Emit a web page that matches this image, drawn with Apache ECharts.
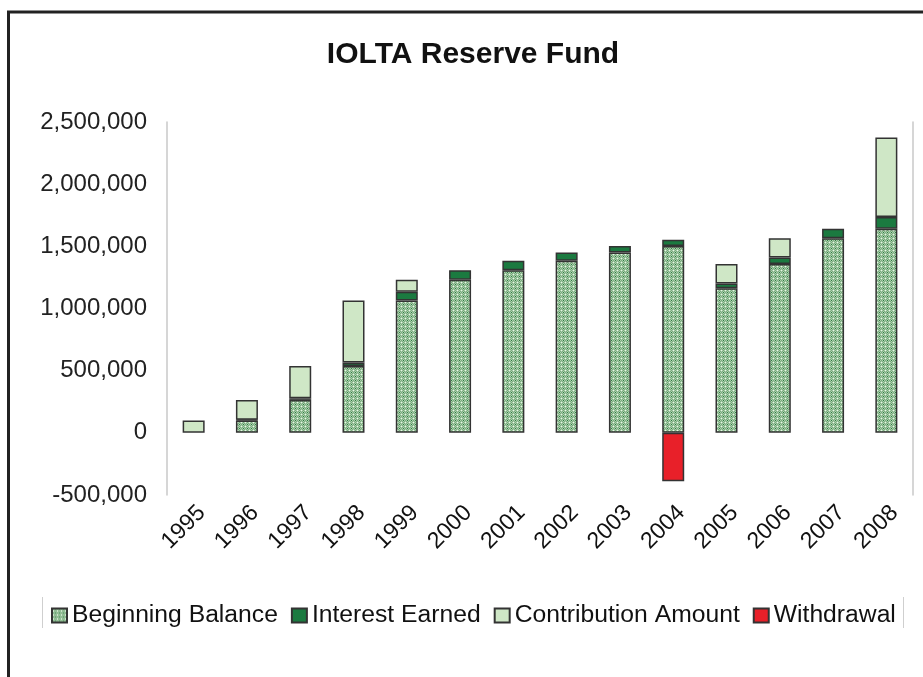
<!DOCTYPE html>
<html>
<head>
<meta charset="utf-8">
<script src="https://cdn.jsdelivr.net/npm/echarts@6/dist/echarts.min.js"></script>
<style>
  html, body { margin: 0; padding: 0; background: #fff; }
  #chart { width: 923px; height: 677px; }
</style>
</head>
<body>
<div id="chart"></div>
<script>
const years = ['1995','1996','1997','1998','1999','2000','2001','2002','2003','2004','2005','2006','2007','2008'];
const beginningBalance = [null, 100000, 265000, 538000, 1064000, 1232000, 1308000, 1384000, 1450000, 1502000, 1162000, 1358000, 1566000, 1642000];
const interestEarned = [null, 5000, 13000, 27000, 70000, 76000, 76000, 66000, 52000, 50000, 40000, 53000, 76000, 93000];
const contributionAmount = [100000, 160000, 260000, 499000, 98000, null, null, null, null, null, 156000, 155000, null, 640000];
const withdrawal = [null, null, null, null, null, null, null, null, null, -390000, null, null, null, null];
const yTicks = [-500000, 0, 500000, 1000000, 1500000, 2000000, 2500000];

// dotted hatch pattern for Beginning Balance
const pc = document.createElement('canvas');
pc.width = 4; pc.height = 4;
const pctx = pc.getContext('2d');
pctx.fillStyle = '#7aa77f'; pctx.fillRect(0, 0, 4, 4);
pctx.fillStyle = '#a9d2aa';
[[0,0],[2,0],[1,1],[3,1],[0,2],[2,2],[1,3],[3,3]].forEach(p => pctx.fillRect(p[0], p[1], 1, 1));
pctx.fillStyle = '#e8f4e8'; pctx.fillRect(1, 2, 1, 1);
pctx.fillStyle = '#2f7a45'; pctx.fillRect(3, 0, 1, 1);
const hatch = { image: pc, repeat: 'repeat' };

const FONT = 'Liberation Sans, Arial, sans-serif';
const border = { borderColor: '#333', borderWidth: 1.5 };

const chart = echarts.init(document.getElementById('chart'), null, { renderer: 'canvas' });
chart.setOption({
  animation: false,
  backgroundColor: '#fff',
  graphic: [
    { type: 'rect', shape: { x: 8.5, y: 12, width: 1000, height: 1000 },
      style: { fill: 'none', stroke: '#222', lineWidth: 3 }, silent: true },
    { type: 'text', x: 473, y: 55,
      style: { text: 'IOLTA Reserve Fund', font: 'bold 30px ' + FONT, fill: '#111',
               textAlign: 'center', textVerticalAlign: 'middle' } },
    { type: 'line', shape: { x1: 42.5, y1: 597, x2: 42.5, y2: 628 }, style: { stroke: '#cfcfcf', lineWidth: 1 } },
    { type: 'line', shape: { x1: 903.5, y1: 597, x2: 903.5, y2: 628 }, style: { stroke: '#cfcfcf', lineWidth: 1 } }
  ],
  legend: {
    left: 46, top: 598,
    itemWidth: 15, itemHeight: 14, itemGap: 13,
    icon: 'rect',
    textStyle: { fontFamily: FONT, fontSize: 24.7, color: '#111' },
    data: ['Beginning Balance', 'Interest Earned', 'Contribution Amount', 'Withdrawal']
  },
  grid: { left: 167, right: 10, top: 122, bottom: 182, containLabel: false },
  xAxis: {
    type: 'category',
    data: years,
    axisLine: { show: false, onZero: false },
    axisTick: { show: false },
    axisLabel: { rotate: 45, margin: 6, verticalAlign: 'top', fontFamily: FONT, fontSize: 23, color: '#111', interval: 0 }
  },
  yAxis: [{
    type: 'value',
    min: yTicks[0], max: yTicks[yTicks.length - 1], interval: 500000,
    axisLine: { show: true, lineStyle: { color: '#c8c8c8', width: 1.5 } },
    axisTick: { show: false },
    splitLine: { show: false },
    axisLabel: { margin: 20, fontFamily: FONT, fontSize: 24, color: '#222',
                 formatter: v => Number(v).toLocaleString('en-US') }
  }, {
    type: 'value', position: 'right',
    min: yTicks[0], max: yTicks[yTicks.length - 1], interval: 500000,
    axisLine: { show: true, lineStyle: { color: '#c8c8c8', width: 1.5 } },
    axisTick: { show: false }, splitLine: { show: false }, axisLabel: { show: false }
  }],
  series: [
    { name: 'Beginning Balance', type: 'bar', stack: 'f', barWidth: 22, data: beginningBalance,
      itemStyle: Object.assign({ color: hatch }, border) },
    { name: 'Interest Earned', type: 'bar', stack: 'f', barWidth: 22, data: interestEarned,
      itemStyle: Object.assign({ color: '#1b7a40' }, border) },
    { name: 'Contribution Amount', type: 'bar', stack: 'f', barWidth: 22, data: contributionAmount,
      itemStyle: Object.assign({ color: '#cfe7c6' }, border) },
    { name: 'Withdrawal', type: 'bar', stack: 'f', barWidth: 22, data: withdrawal,
      itemStyle: Object.assign({ color: '#e82029' }, border) }
  ]
});
</script>
</body>
</html>
